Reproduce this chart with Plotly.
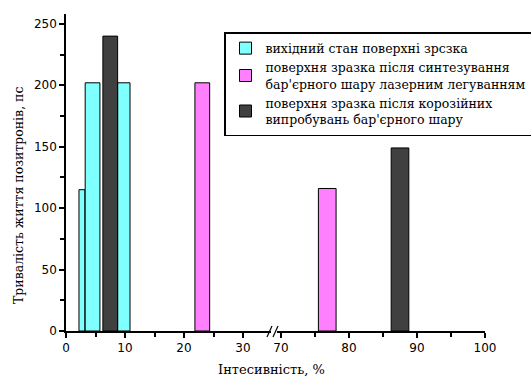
import plotly.graph_objects as go

# ---- data ----
series_names = [
    "вихідний стан поверхні зрсзка",
    "поверхня зразка після синтезування<br>бар'єрного шару лазерним легуванням",
    "поверхня зразка після корозійних<br>випробувань бар'єрного шару",
]
# left segment of the broken axis (0..35 %)
cyan_x = [2.7, 4.5, 9.8]
cyan_y = [115, 202, 202]
magenta_left_x = [23.1]
magenta_left_y = [202]
dark_left_x = [7.5]
dark_left_y = [240]
# right segment of the broken axis (70..100 %)
magenta_right_x = [76.8]
magenta_right_y = [116]
dark_right_x = [87.5]
dark_right_y = [149]

x_left_ticks = [0, 10, 20, 30]
x_right_ticks = [70, 80, 90, 100]
y_ticks = [0, 50, 100, 150, 200, 250]

y_title = "Тривалість життя позитронів, пс"
x_title = "Інтесивність, %"

# ---- styles ----
cyan_w = [1.0, 2.5, 2.1]
bar_w = 2.5
bar_w_right = 2.6
col_cyan = "#80FFFF"
col_mag = "#FF80FF"
col_dark = "#404040"
line = dict(color="black", width=1)

W, H = 531, 377
L, R, T, B = 66, 46, 14, 46
pw = W - L - R
ph = H - T - B

def px2paper_x(p):
    return (p - L) / pw

def px2paper_y(p):
    return (H - B - p) / ph

fig = go.Figure()
fig.add_trace(go.Bar(x=cyan_x, y=cyan_y, width=cyan_w, name=series_names[0],
                     marker=dict(color=col_cyan, line=line), legendgroup="a",
                     xaxis="x", yaxis="y", legendrank=1))
fig.add_trace(go.Bar(x=magenta_left_x, y=magenta_left_y, width=[bar_w], name=series_names[1],
                     marker=dict(color=col_mag, line=line), legendgroup="b",
                     xaxis="x", yaxis="y", legendrank=2))
fig.add_trace(go.Bar(x=dark_left_x, y=dark_left_y, width=[bar_w], name=series_names[2],
                     marker=dict(color=col_dark, line=line), legendgroup="c",
                     xaxis="x", yaxis="y", legendrank=3))
fig.add_trace(go.Bar(x=magenta_right_x, y=magenta_right_y, width=[bar_w_right], name=series_names[1],
                     marker=dict(color=col_mag, line=line), legendgroup="b", showlegend=False,
                     xaxis="x2", yaxis="y"))
fig.add_trace(go.Bar(x=dark_right_x, y=dark_right_y, width=[bar_w_right], name=series_names[2],
                     marker=dict(color=col_dark, line=line), legendgroup="c", showlegend=False,
                     xaxis="x2", yaxis="y"))

tickfont = dict(family="DejaVu Sans", size=12, color="black")
common_x = dict(showline=True, linecolor="black", linewidth=1.5, showgrid=False, zeroline=False,
                automargin=False,
                ticks="outside", ticklen=5, tickcolor="black", tickwidth=1.5, tickfont=tickfont,
                minor=dict(ticks="outside", ticklen=4, tickcolor="black", tickwidth=1.5, dtick=5))

left_end_px = 271
right_start_px = 277
left_max = (left_end_px - L) / 5.9
right_min = 100 - (W - R - right_start_px) / 6.8

fig.update_layout(
    width=W, height=H,
    margin=dict(l=L, r=R, t=T, b=B, autoexpand=False),
    paper_bgcolor="white", plot_bgcolor="white",
    barmode="overlay",
    showlegend=True,
    xaxis=dict(domain=[0, px2paper_x(left_end_px)], range=[0, left_max],
               tickvals=x_left_ticks, anchor="y", **common_x),
    xaxis2=dict(domain=[px2paper_x(right_start_px), 1], range=[right_min, 100],
                tickvals=x_right_ticks, anchor="y", **common_x),
    yaxis=dict(range=[0, 258], tickvals=y_ticks, showline=True, linecolor="black", linewidth=1.5,
               showgrid=False, zeroline=False, ticks="outside", ticklen=5, tickcolor="black",
               tickwidth=1.5, tickfont=tickfont, automargin=False,
               minor=dict(ticks="outside", ticklen=4, tickcolor="black", tickwidth=1.5, dtick=25)),
    legend=dict(x=px2paper_x(224), y=px2paper_y(32), xanchor="left", yanchor="top",
                bordercolor="black", borderwidth=1.5, bgcolor="white",
                font=dict(family="DejaVu Serif", size=12.5, color="black"),
                traceorder="normal", itemwidth=30),
    annotations=[
        dict(text=x_title, xref="paper", yref="paper",
             x=px2paper_x(271), y=px2paper_y(369), xanchor="center", yanchor="middle",
             showarrow=False, font=dict(family="DejaVu Serif", size=13, color="black")),
        dict(text=y_title, xref="paper", yref="paper", textangle=-90,
             x=px2paper_x(18), y=px2paper_y(196), xanchor="center", yanchor="middle",
             showarrow=False, font=dict(family="DejaVu Serif", size=12.5, color="black")),
    ],
    shapes=[
        dict(type="line", xref="paper", yref="paper",
             x0=px2paper_x(267), y0=px2paper_y(337), x1=px2paper_x(272), y1=px2paper_y(326),
             line=dict(color="black", width=1.2)),
        dict(type="line", xref="paper", yref="paper",
             x0=px2paper_x(273), y0=px2paper_y(337), x1=px2paper_x(278), y1=px2paper_y(326),
             line=dict(color="black", width=1.2)),
    ],
)

fig.write_html("out.html", config={"displayModeBar": False},
               post_script="document.body.style.margin='0';")
